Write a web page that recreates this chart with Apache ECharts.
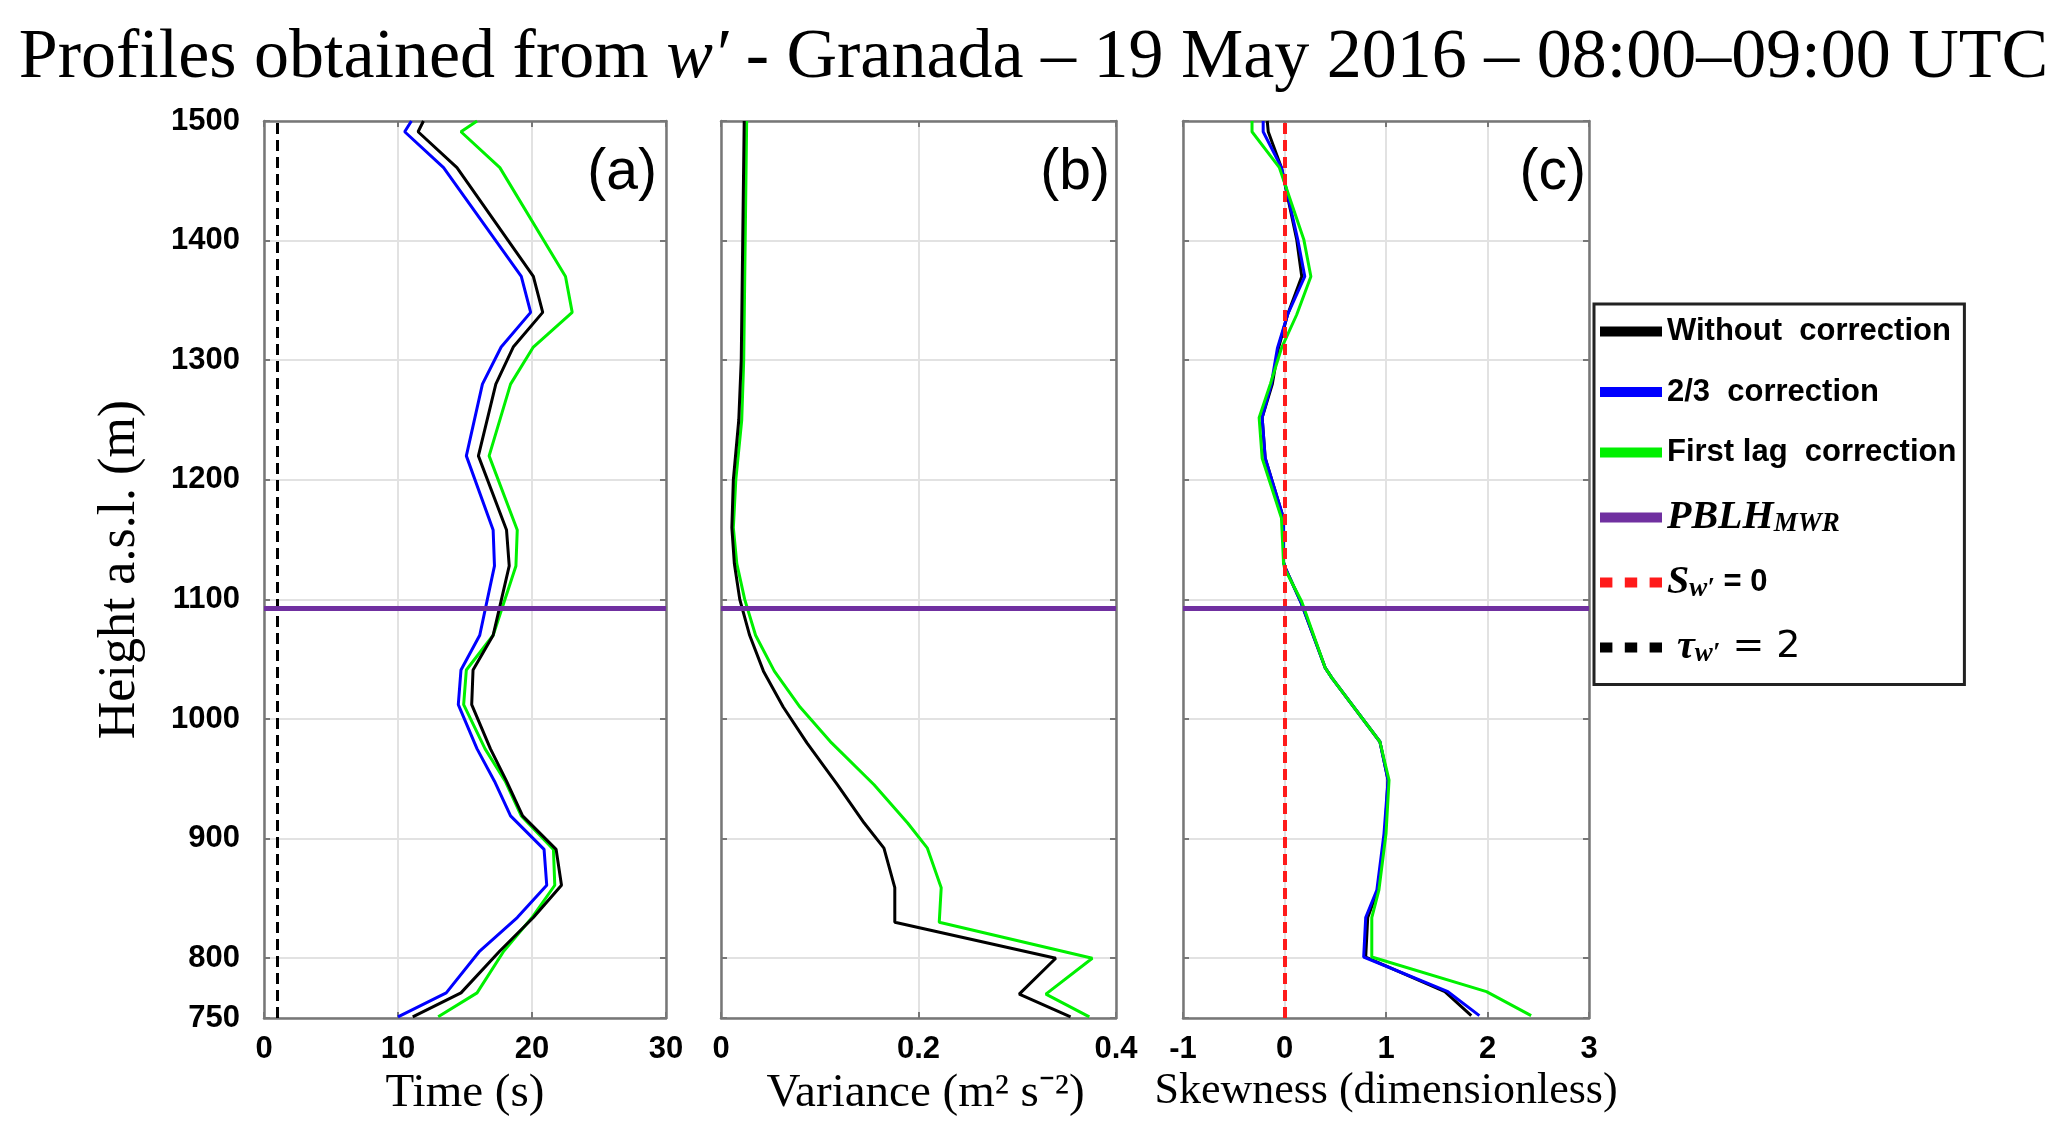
<!DOCTYPE html>
<html>
<head>
<meta charset="utf-8">
<script src="https://cdn.jsdelivr.net/npm/echarts@6/dist/echarts.min.js"></script>
<style>
html,body{margin:0;padding:0;background:#fff;}
#chart{width:2067px;height:1135px;}
</style>
</head>
<body>
<div id="chart"></div>
<script>
// ---------------- data ----------------
// Panel (a): integral time scale (s) vs height a.s.l. (m)
const heightsA = [1500,1491,1461,1370,1340,1311,1280,1220,1158,1128,1070,1041,1012,975,948,919,891,861,834,806,771,751];
const timeNoCorr    = [11.9,11.5,14.4,20.1,20.8,18.6,17.3,16.0,18.1,18.3,17.1,15.6,15.5,16.9,18.1,19.3,21.8,22.2,20.1,17.6,14.7,11.1];
const timeTwoThirds = [11.0,10.5,13.4,19.2,19.9,17.7,16.3,15.1,17.1,17.2,16.1,14.7,14.5,15.9,17.2,18.4,20.9,21.1,18.9,16.1,13.6,10.0];
const timeFirstLag  = [15.9,14.7,17.6,22.5,23.0,20.1,18.4,16.8,18.9,18.8,17.1,15.1,14.9,16.5,18.0,19.2,21.6,21.7,20.0,17.9,15.9,13.0];

// Panel (b): variance (m2 s-2)
const heightsB = [1500,1400,1300,1250,1200,1160,1130,1100,1070,1040,1010,980,945,913,892,859,830,800,770,751];
const varNoCorr   = [0.0235,0.022,0.0205,0.018,0.0125,0.011,0.0135,0.019,0.029,0.043,0.063,0.087,0.118,0.145,0.165,0.176,0.176,0.339,0.302,0.354];
const varFirstLag = [0.026,0.0245,0.023,0.021,0.015,0.0125,0.016,0.024,0.035,0.054,0.080,0.112,0.155,0.189,0.209,0.223,0.221,0.376,0.329,0.373];

// Panel (c): skewness (dimensionless)
const heightsC = [1500,1491,1461,1401,1370,1338,1310,1280,1252,1218,1168,1131,1126,1098,1043,1034,981,949,904,857,834,801,772,752];
const skewNoCorr    = [-0.17,-0.16,-0.03,0.12,0.17,0.03,-0.06,-0.12,-0.22,-0.19,-0.01,-0.01,0.01,0.16,0.40,0.47,0.94,1.02,0.99,0.92,0.82,0.80,1.58,1.84];
const skewTwoThirds = [-0.21,-0.21,-0.03,0.13,0.20,0.03,-0.07,-0.13,-0.22,-0.19,-0.01,-0.01,0.01,0.16,0.40,0.47,0.94,1.02,0.98,0.91,0.80,0.78,1.61,1.92];
const skewFirstLag  = [-0.32,-0.32,-0.05,0.19,0.26,0.12,-0.03,-0.14,-0.25,-0.22,-0.03,-0.01,0.00,0.17,0.40,0.47,0.94,1.03,1.00,0.93,0.86,0.86,1.99,2.43];

// reference lines
const pblhMWR = 1093;     // PBLH from MWR (m)
const tauRef = 1;         // dashed black line in panel (a)
const skewRef = 0;        // dashed red line in panel (c)

// tick labels
const yTicks  = [750,800,900,1000,1100,1200,1300,1400,1500];
const xTicksA = [0,10,20,30];
const xTicksB = [0,0.2,0.4];
const xTicksC = [-1,0,1,2,3];

const panelLabels = ['(a)','(b)','(c)'];
const xNames = ['Time (s)','Variance (m\u00B2 s\u207B\u00B2)','Skewness (dimensionless)'];
const yName = 'Height a.s.l. (m)';
const titleText = 'Profiles obtained from ';
const titleVar = 'w\u2032';
const titleRest = ' - Granada \u2013 19 May 2016 \u2013 08:00\u201309:00 UTC';

const N_NO = 'Without  correction', N_23 = '2/3  correction', N_FL = 'First lag  correction',
      N_PB = 'PBLH', N_S = 'Sw', N_T = 'tau';

// ---------------- build ----------------
const C_BLACK = '#000000', C_BLUE = '#0000ff', C_GREEN = '#00f000', C_PURPLE = '#7030a0', C_RED = '#ff1a1a';
const frameColor = '#777777', gridColor = '#e2e2e2';
const tickFont = {fontFamily:'Liberation Sans', fontWeight:'bold', fontSize:31, color:'#000'};
const xNameSizes = [47, 47, 44];
const xNamePads = [[0,0,0,0],[0,0,0,14],[0,0,0,0]];

function pairs(xs, hs){ return hs.map((h,i)=>[xs[i],h]); }

const grids = [
  {left:264, top:121, width:402, height:897},
  {left:721, top:121, width:395, height:897},
  {left:1183, top:121, width:406, height:897}
];
const xTickSets = [xTicksA, xTicksB, xTicksC];

const xAxis = [], yAxis = [];
xTickSets.forEach((tk, i) => {
  xAxis.push({
    gridIndex:i, type:'value', position:'bottom',
    min: tk[0], max: tk[tk.length-1], interval: tk[1]-tk[0],
    axisLine:{show:true, onZero:false, lineStyle:{color:frameColor, width:2.5}},
    axisTick:{show:true, inside:true, length:6, lineStyle:{color:frameColor, width:2}},
    axisLabel:Object.assign({margin:16, formatter:v=>String(+v.toFixed(2))}, tickFont),
    splitLine:{show:true, lineStyle:{color:gridColor, width:2}},
    name:xNames[i], nameLocation:'middle', nameGap:48,
    nameTextStyle:{fontFamily:'Liberation Serif', fontSize:xNameSizes[i], color:'#000', padding:xNamePads[i]}
  });
  xAxis.push({
    gridIndex:i, type:'value', position:'top',
    min: tk[0], max: tk[tk.length-1], interval: tk[1]-tk[0],
    axisLine:{show:true, onZero:false, lineStyle:{color:frameColor, width:2.5}},
    axisTick:{show:true, inside:true, length:6, lineStyle:{color:frameColor, width:2}},
    axisLabel:{show:false}, splitLine:{show:false}
  });
  const yl = {
    gridIndex:i, type:'value', position:'left', min:yTicks[0], max:yTicks[yTicks.length-1],
    axisLine:{show:true, onZero:false, lineStyle:{color:frameColor, width:2.5}},
    axisTick:{show:true, inside:true, length:6, customValues:yTicks, lineStyle:{color:frameColor, width:2}},
    axisLabel:Object.assign({show:i===0, margin:24, customValues:yTicks, formatter:v=>String(v)}, tickFont),
    splitLine:{show:true, lineStyle:{color:gridColor, width:2}}
  };
  if (i===0){
    yl.name = yName; yl.nameLocation='middle'; yl.nameGap=118; yl.nameRotate=90;
    yl.nameTextStyle = {fontFamily:'Liberation Serif', fontSize:52, color:'#000'};
  }
  yAxis.push(yl);
  yAxis.push({
    gridIndex:i, type:'value', position:'right', min:yTicks[0], max:yTicks[yTicks.length-1],
    axisLine:{show:true, onZero:false, lineStyle:{color:frameColor, width:2.5}},
    axisTick:{show:true, inside:true, length:6, customValues:yTicks, lineStyle:{color:frameColor, width:2}},
    axisLabel:{show:false}, splitLine:{show:false}
  });
});

function prof(name, color, xs, hs, p, z){
  return {name, type:'line', xAxisIndex:2*p, yAxisIndex:2*p, data:pairs(xs,hs),
    showSymbol:false, symbol:'none', z:z||2,
    itemStyle:{color}, lineStyle:{color, width:3}};
}
function refLine(name, color, p, axisKey, value, dashed, width){
  const ml = {};
  ml[axisKey] = value;
  return {name, type:'line', xAxisIndex:2*p, yAxisIndex:2*p, data:[], z:5,
    itemStyle:{color}, lineStyle:{color},
    markLine:{silent:true, symbol:['none','none'], label:{show:false},
      lineStyle:{color, width, type: dashed ? [11,6] : 'solid'}, data:[ml], animation:false}};
}

const series = [
  prof(N_NO, C_BLACK, timeNoCorr, heightsA, 0, 3),
  prof(N_23, C_BLUE, timeTwoThirds, heightsA, 0, 2),
  prof(N_FL, C_GREEN, timeFirstLag, heightsA, 0, 2),
  prof(N_NO, C_BLACK, varNoCorr, heightsB, 1, 3),
  prof(N_FL, C_GREEN, varFirstLag, heightsB, 1, 2),
  prof(N_NO, C_BLACK, skewNoCorr, heightsC, 2, 2),
  prof(N_23, C_BLUE, skewTwoThirds, heightsC, 2, 3),
  prof(N_FL, C_GREEN, skewFirstLag, heightsC, 2, 4),
  refLine(N_T, C_BLACK, 0, 'xAxis', tauRef, true, 3),
  refLine(N_S, C_RED, 2, 'xAxis', skewRef, true, 4),
  refLine(N_PB, C_PURPLE, 0, 'yAxis', pblhMWR, false, 5),
  refLine(N_PB, C_PURPLE, 1, 'yAxis', pblhMWR, false, 5),
  refLine(N_PB, C_PURPLE, 2, 'yAxis', pblhMWR, false, 5)
];

const dots = 'path://M0,0h11v11h-11zM22,0h11v11h-11zM44,0h11v11h-11z';
const legendLabel = {};
legendLabel[N_NO] = '{t|Without  correction}{ms|\u200B}';
legendLabel[N_23] = '{t|2/3  correction}{ms|\u200B}';
legendLabel[N_FL] = '{t|First lag  correction}{ms|\u200B}';
legendLabel[N_PB] = '{mi|PBLH}{ms|MWR}';
legendLabel[N_S]  = '{mi|S}{ms|w\u2032}{t| = 0}';
legendLabel[N_T]  = '{mi| \u03C4}{ms|w\u2032}{m| = 2}';

const option = {
  backgroundColor:'#ffffff',
  animation:false,
  title:[
    {text:'{r|'+titleText+'}{i|'+titleVar+'}{r|'+titleRest+'}', left:'center', top:24, padding:0,
     textStyle:{fontWeight:'normal', rich:{
       r:{fontFamily:'Liberation Serif', fontWeight:'normal', fontSize:70, color:'#000'},
       i:{fontFamily:'Liberation Serif', fontWeight:'normal', fontSize:70, fontStyle:'italic', color:'#000'}}}},
    {text:panelLabels[0], right:2067-657, top:145, padding:0, textStyle:{fontFamily:'Liberation Sans', fontWeight:'normal', fontSize:57, color:'#000'}},
    {text:panelLabels[1], right:2067-1110, top:145, padding:0, textStyle:{fontFamily:'Liberation Sans', fontWeight:'normal', fontSize:57, color:'#000'}},
    {text:panelLabels[2], right:2067-1586, top:145, padding:0, textStyle:{fontFamily:'Liberation Sans', fontWeight:'normal', fontSize:57, color:'#000'}}
  ],
  legend:{
    orient:'vertical', left:1594, top:304,
    padding:[12,8,17,6], itemGap:25, itemWidth:62, itemHeight:10,
    symbolKeepAspect:false,
    borderColor:'#222', borderWidth:3, backgroundColor:'#fff',
    data:[
      {name:N_NO, icon:'rect'}, {name:N_23, icon:'rect'}, {name:N_FL, icon:'rect'},
      {name:N_PB, icon:'rect'}, {name:N_S, icon:dots}, {name:N_T, icon:dots}
    ],
    formatter: n => legendLabel[n],
    textStyle:{rich:{
      t:{fontFamily:'Liberation Sans', fontWeight:'bold', fontSize:31, lineHeight:40, color:'#000'},
      mi:{fontFamily:'Liberation Serif', fontStyle:'italic', fontWeight:'bold', fontSize:40, lineHeight:40, color:'#000'},
      ms:{fontFamily:'Liberation Serif', fontStyle:'italic', fontWeight:'bold', fontSize:27, lineHeight:22, verticalAlign:'bottom', color:'#000'},
      m:{fontFamily:'DejaVu Sans', fontSize:38, lineHeight:40, color:'#000'}
    }}
  },
  grid:grids,
  xAxis, yAxis, series
};

const chart = echarts.init(document.getElementById('chart'), null, {renderer:'canvas'});
chart.setOption(option);
</script>
</body>
</html>
